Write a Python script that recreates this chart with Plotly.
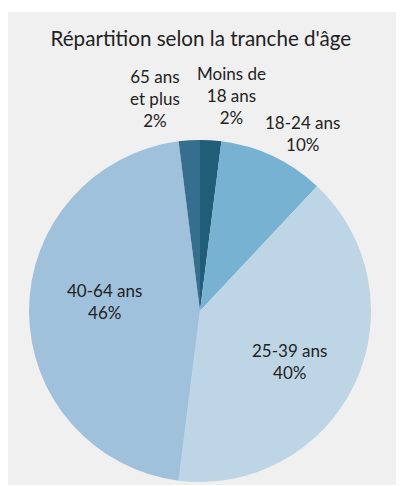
import math
import plotly.graph_objects as go

labels = ["Moins de<br>18 ans", "18-24 ans", "25-39 ans", "40-64 ans", "65 ans<br>et plus"]
values = [2, 10, 40, 46, 2]
colors = ["#1f5d78", "#78b2d2", "#bed5e5", "#a0c1db", "#366f8e"]
# label placement: radius factor, pixel shifts
label_k = [1.0, 1.0, 0.6, 0.56, 1.0]
label_dx = [21, 30, -3, 0, -34]
label_dy = [45, 23, -7, 10, 42]

FONT = "Lato"
TXT = "#222222"

fig = go.Figure(go.Pie(
    labels=labels,
    values=values,
    sort=False,
    direction="clockwise",
    rotation=0,
    marker=dict(colors=colors, line=dict(width=0)),
    textinfo="none",
    showlegend=False,
    hoverinfo="label+percent",
))

total = sum(values)
annotations = []
cum = 0
for lab, v, k, dx, dy in zip(labels, values, label_k, label_dx, label_dy):
    mid = (cum + v / 2) / total * 2 * math.pi
    cum += v
    annotations.append(dict(
        text=f"{lab}<br>{round(100 * v / total)}%",
        x=0.5 + 0.5 * k * math.sin(mid),
        y=0.5 + 0.5 * k * math.cos(mid),
        xref="paper", yref="paper",
        xanchor="center", yanchor="middle",
        xshift=dx, yshift=dy,
        showarrow=False,
        font=dict(family=FONT, size=17, color=TXT),
    ))

fig.update_layout(
    width=396,
    height=478,
    margin=dict(l=21, r=33, t=132, b=4),
    paper_bgcolor="#ffffff",
    plot_bgcolor="rgba(0,0,0,0)",
    shapes=[dict(
        type="rect", xref="paper", yref="paper", layer="below",
        x0=-21 / 342, x1=1 + 33 / 342, y0=-3 / 342, y1=1 + 128 / 342,
        fillcolor="#f0f0f0", line=dict(width=0),
    )],
    annotations=annotations,
    title=dict(
        text="Répartition selon la tranche d'âge",
        font=dict(family=FONT, size=20.6, color=TXT),
        x=0.487, xanchor="center", y=0.935, yanchor="middle",
    ),
)

fig.write_html("out.html")
